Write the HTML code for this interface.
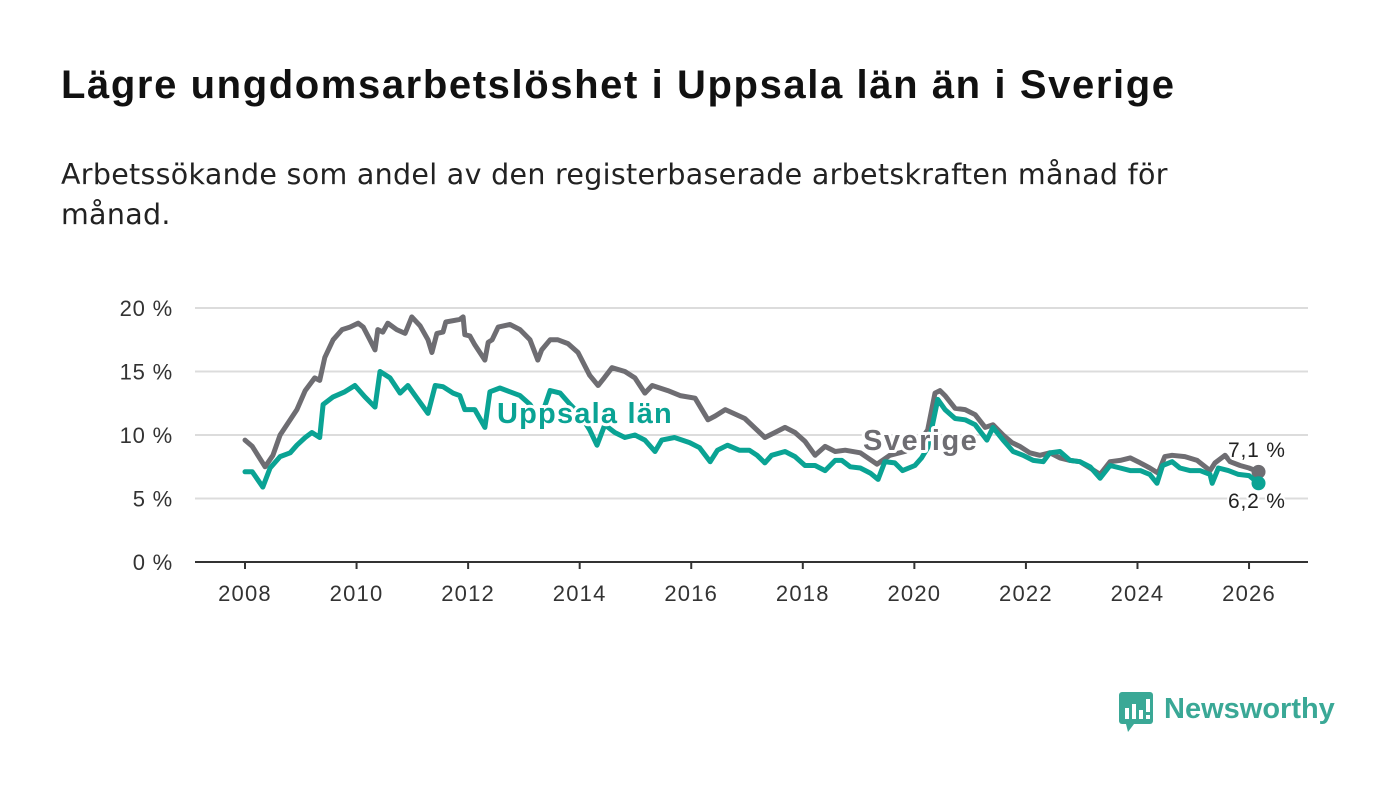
<!DOCTYPE html>
<html><head><meta charset="utf-8"><style>
body{margin:0;background:#fff;font-family:"Liberation Sans","DejaVu Sans",sans-serif}
#wrap{position:relative;width:1400px;height:794px;overflow:hidden}
h1{position:absolute;left:61px;top:63px;margin:0;font-size:40px;font-weight:bold;color:#111;letter-spacing:1.6px}
p.sub{position:absolute;left:61px;top:155px;margin:0;font-family:"DejaVu Sans","Liberation Sans",sans-serif;font-size:28.5px;line-height:40px;color:#222;width:1300px;letter-spacing:0.3px}
svg{position:absolute;left:0;top:0}
</style></head><body><div id="wrap">
<h1>Lägre ungdomsarbetslöshet i Uppsala län än i Sverige</h1>
<p class="sub">Arbetssökande som andel av den registerbaserade arbetskraften månad för<br>månad.</p>
<svg id="chart" width="1400" height="794"></svg>
<div style="position:absolute;left:1118px;top:690px;display:flex;align-items:center">
<svg width="38" height="46" style="position:static"><rect x="1" y="2" width="34" height="32" rx="3" fill="#3aa896"/><polygon points="8,34 16,34 10,42" fill="#3aa896"/><rect x="7" y="18" width="4" height="11" fill="#fff"/><rect x="14" y="14" width="4" height="15" fill="#fff"/><rect x="21" y="20" width="4" height="9" fill="#fff"/><rect x="28" y="9" width="4" height="13" fill="#fff"/><rect x="28" y="25" width="4" height="4" fill="#fff"/></svg>
<span style="font-size:29px;font-weight:bold;color:#3aa896;margin-left:8px;margin-top:-8px">Newsworthy</span></div>
</div>
<script>
const sweT=[2008.00,2008.13,2008.36,2008.50,2008.63,2008.81,2008.93,2009.08,2009.25,2009.34,2009.43,2009.58,2009.74,2009.88,2010.03,2010.12,2010.24,2010.33,2010.38,2010.47,2010.56,2010.72,2010.87,2010.99,2011.14,2011.28,2011.35,2011.44,2011.55,2011.60,2011.85,2011.91,2011.94,2012.03,2012.12,2012.30,2012.36,2012.43,2012.54,2012.75,2012.93,2013.11,2013.25,2013.32,2013.47,2013.61,2013.79,2013.97,2014.18,2014.33,2014.44,2014.58,2014.81,2014.99,2015.17,2015.30,2015.58,2015.80,2016.07,2016.30,2016.43,2016.61,2016.96,2017.32,2017.50,2017.68,2017.86,2018.04,2018.22,2018.40,2018.58,2018.76,2019.03,2019.33,2019.56,2019.83,2020.05,2020.24,2020.37,2020.46,2020.55,2020.73,2020.91,2021.09,2021.27,2021.41,2021.59,2021.75,2021.89,2022.07,2022.25,2022.43,2022.61,2022.79,2022.97,2023.15,2023.33,2023.51,2023.69,2023.87,2024.05,2024.22,2024.37,2024.49,2024.62,2024.85,2025.07,2025.30,2025.39,2025.57,2025.66,2025.84,2026.00,2026.17];
const sweV=[9.6,9.1,7.5,8.4,10.0,11.2,12.0,13.5,14.5,14.3,16.1,17.5,18.3,18.5,18.8,18.5,17.5,16.7,18.3,18.1,18.8,18.3,18.0,19.3,18.6,17.5,16.5,18.0,18.1,18.9,19.1,19.3,17.9,17.8,17.1,15.9,17.3,17.5,18.5,18.7,18.3,17.5,15.9,16.7,17.5,17.5,17.2,16.5,14.7,13.9,14.5,15.3,15.0,14.5,13.3,13.9,13.5,13.1,12.9,11.2,11.5,12.0,11.3,9.8,10.2,10.6,10.2,9.5,8.4,9.1,8.7,8.8,8.6,7.7,8.4,8.7,9.2,10.4,13.3,13.5,13.1,12.1,12.0,11.6,10.6,10.8,10.0,9.4,9.1,8.6,8.4,8.6,8.2,8.0,7.9,7.4,6.9,7.9,8.0,8.2,7.8,7.4,7.0,8.3,8.4,8.3,8.0,7.2,7.8,8.4,7.9,7.6,7.4,7.1];
const uppT=[2008.00,2008.13,2008.32,2008.45,2008.63,2008.81,2008.93,2009.08,2009.20,2009.34,2009.40,2009.58,2009.79,2009.97,2010.15,2010.33,2010.42,2010.60,2010.78,2010.92,2011.05,2011.28,2011.41,2011.55,2011.73,2011.85,2011.94,2012.12,2012.30,2012.39,2012.57,2012.75,2012.93,2013.11,2013.29,2013.47,2013.65,2013.83,2014.01,2014.18,2014.31,2014.45,2014.63,2014.81,2014.99,2015.17,2015.35,2015.47,2015.70,2015.97,2016.15,2016.34,2016.47,2016.65,2016.86,2017.04,2017.18,2017.32,2017.44,2017.68,2017.86,2018.04,2018.22,2018.40,2018.58,2018.70,2018.85,2019.03,2019.21,2019.35,2019.47,2019.65,2019.79,2020.01,2020.13,2020.24,2020.42,2020.55,2020.73,2020.91,2021.09,2021.30,2021.41,2021.59,2021.77,2021.95,2022.13,2022.31,2022.43,2022.61,2022.79,2022.97,2023.15,2023.33,2023.51,2023.69,2023.87,2024.05,2024.22,2024.35,2024.45,2024.62,2024.76,2024.94,2025.12,2025.30,2025.34,2025.45,2025.63,2025.81,2026.00,2026.17];
const uppV=[7.1,7.1,5.9,7.4,8.3,8.6,9.2,9.8,10.2,9.8,12.4,13.0,13.4,13.9,13.0,12.2,15.0,14.5,13.3,13.9,13.1,11.7,13.9,13.8,13.3,13.1,12.0,12.0,10.6,13.4,13.7,13.4,13.1,12.4,11.2,13.5,13.3,12.4,11.6,10.4,9.2,10.8,10.2,9.8,10.0,9.6,8.7,9.6,9.8,9.4,9.0,7.9,8.8,9.2,8.8,8.8,8.4,7.8,8.4,8.7,8.3,7.6,7.6,7.2,8.0,8.0,7.5,7.4,7.0,6.5,7.9,7.8,7.2,7.6,8.2,9.0,12.8,12.0,11.3,11.2,10.8,9.6,10.6,9.6,8.7,8.4,8.0,7.9,8.6,8.7,8.0,7.9,7.5,6.6,7.6,7.4,7.2,7.2,6.9,6.2,7.6,7.9,7.4,7.2,7.2,6.9,6.2,7.4,7.2,6.9,6.8,6.2];
const xTicks=[2008,2010,2012,2014,2016,2018,2020,2022,2024,2026];
const yTicks=[0,5,10,15,20];
const yLabels=["0 %","5 %","10 %","15 %","20 %"];

const svg=document.getElementById('chart');const NS='http://www.w3.org/2000/svg';
const X=t=>245+(t-2008)*55.78;
const Y=v=>562-v*12.7;
function mk(tag,at){const e=document.createElementNS(NS,tag);for(const k in at)e.setAttribute(k,at[k]);svg.appendChild(e);return e;}
yTicks.forEach((v,i)=>{
 if(v>0){const g=mk('line',{x1:195,x2:1308,y1:Y(v),y2:Y(v),stroke:'#dcdcdc','stroke-width':2});
 
 }
 const t=mk('text',{x:173,y:Y(v)+8,'text-anchor':'end','font-size':22,'letter-spacing':0.8,fill:'#333'});t.textContent=yLabels[i];
 
 
});
const ax=mk('line',{x1:195,x2:1308,y1:562,y2:562,stroke:'#333','stroke-width':2});


xTicks.forEach(y=>{
 const tk=mk('line',{x1:X(y),x2:X(y),y1:562,y2:569,stroke:'#333','stroke-width':2});
 
 
 const t=mk('text',{x:X(y),y:601,'text-anchor':'middle','font-size':22,'letter-spacing':1.2,fill:'#333'});t.textContent=y;
 
 
});
function line(T,V,col,name){
 const d=T.map((t,i)=>(i?'L':'M')+X(t).toFixed(1)+','+Y(V[i]).toFixed(1)).join('');
 const p=mk('path',{d:d,fill:'none',stroke:col,'stroke-width':5,'stroke-linejoin':'round','stroke-linecap':'round'});
 
 
 const n=T.length-1;
 const c=mk('circle',{cx:X(T[n]),cy:Y(V[n]),r:7,fill:col});
 
 
}
line(sweT,sweV,'#6e6d72','sverige-line');
line(uppT,uppV,'#0aa394','uppsala-line');
function lab(x,y,txt,col,name,bold,fs,ls){
 const t=mk('text',{x:x,y:y,'font-size':fs,'letter-spacing':ls,'font-weight':bold?'bold':'normal',fill:col,stroke:'#fff','stroke-width':bold?6:4,'paint-order':'stroke','stroke-linejoin':'round'});
 t.textContent=txt;
 
 
}
lab(497,423,'Uppsala län','#0aa394','uppsala-label',true,29,1.2);
lab(863,450,'Sverige','#6e6d72','sverige-label',true,29,1.5);
lab(1228,457,'7,'+'1 %','#222','sverige-end-value',false,21,0.8);
lab(1228,508,'6,'+'2 %','#222','uppsala-end-value',false,21,0.8);
</script></body></html>
